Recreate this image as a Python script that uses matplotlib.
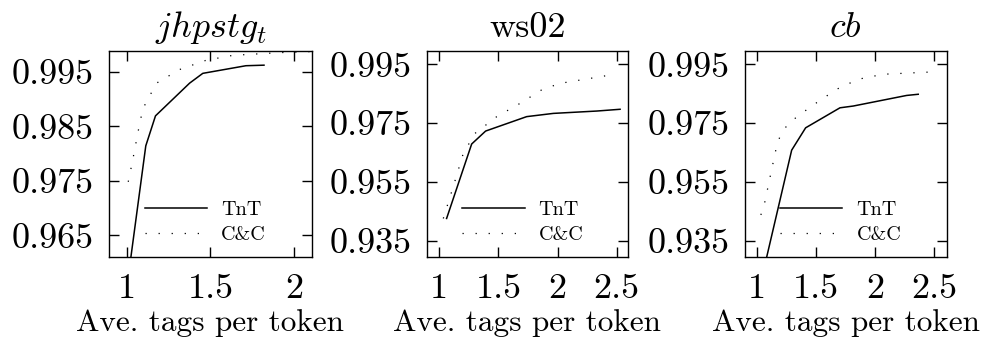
import matplotlib as mpl
mpl.use('agg')
import matplotlib.pyplot as plt

plt.rc('font', family='serif', serif=['cmr10'], size=19)
plt.rc('mathtext', fontset='cm')
plt.rc('axes', linewidth=1.0)
plt.rcParams['axes.formatter.use_mathtext'] = True
plt.rc('lines', scale_dashes=False)

titles = [r'$jhpstg_t$', 'ws02', r'$cb$']

# TnT curves (ave. tags per token, accuracy)
tnt_x = [
    [1.0, 1.113, 1.171, 1.375, 1.454, 1.712, 1.82],
    [1.062, 1.274, 1.392, 1.739, 1.965, 2.332, 2.529],
    [1.03, 1.296, 1.414, 1.704, 1.816, 2.267, 2.365],
]
tnt_y = [
    [0.9555, 0.9814, 0.9869, 0.9929, 0.9947, 0.9961, 0.9962],
    [0.9426, 0.9679, 0.9723, 0.9772, 0.9783, 0.9791, 0.9797],
    [0.9200, 0.9658, 0.9734, 0.9802, 0.9808, 0.9844, 0.9848],
]

# C&C curves
cc_x = [
    [1.008, 1.033, 1.077, 1.097, 1.177, 1.315, 1.474, 1.633, 1.911, 2.11],
    [1.034, 1.118, 1.203, 1.302, 1.486, 1.683, 1.866, 2.021, 2.247, 2.5],
    [1.036, 1.07, 1.118, 1.163, 1.197, 1.267, 1.465, 1.676, 1.858, 2.07, 2.49],
]
cc_y = [
    [0.9748, 0.9785, 0.9856, 0.9883, 0.9929, 0.9954, 0.9971, 0.9980, 0.9985, 0.9987],
    [0.9426, 0.9534, 0.9647, 0.9715, 0.9772, 0.9817, 0.9863, 0.9885, 0.9900, 0.9917],
    [0.9438, 0.9483, 0.9575, 0.9660, 0.9705, 0.9749, 0.9808, 0.9865, 0.9899, 0.9916, 0.9924],
]

xticks = [[1, 1.5, 2], [1, 1.5, 2, 2.5], [1, 1.5, 2, 2.5]]
yticks = [[0.965, 0.975, 0.985, 0.995],
          [0.935, 0.955, 0.975, 0.995],
          [0.935, 0.955, 0.975, 0.995]]
xlims = [(0.893, 2.107), (0.896, 2.596), (0.899, 2.605)]
ylims = [(0.961, 0.9988), (0.9295, 0.9995), (0.9295, 0.9995)]

fig = plt.figure(figsize=(9.82, 3.38), dpi=100)
lefts = [0.111, 0.4348, 0.7583]
widths = [0.2067, 0.2047, 0.2057]

for i in range(3):
    ax = fig.add_axes([lefts[i], 0.2396, widths[i], 0.6095])
    ax.plot(tnt_x[i], tnt_y[i], color='black', lw=1.1, label='TnT')
    ax.plot(cc_x[i], cc_y[i], color='black', lw=0.9,
            linestyle=(0, (0.9, 8.5)), label='C&C')
    ax.set_xlim(xlims[i])
    ax.set_ylim(ylims[i])
    ax.set_xticks(xticks[i])
    ax.set_yticks(yticks[i])
    ax.set_xticklabels([f'{v:g}' for v in xticks[i]])
    ax.set_yticklabels([f'{v:.3f}' for v in yticks[i]])
    ax.tick_params(direction='in', top=True, right=True, length=7,
                   width=1.0, labelsize=26)
    ax.tick_params(axis='y', pad=11)
    ax.tick_params(axis='x', pad=12)
    ax.set_title(titles[i], fontsize=26, pad=10)
    ax.set_xlabel('Ave. tags per token', fontsize=22.5, labelpad=3)
    ax.legend(loc='lower left', bbox_to_anchor=(0.175, 0.065), frameon=False,
              fontsize=14.5, handlelength=3.1, handletextpad=0.7,
              labelspacing=0.3, borderpad=0, borderaxespad=0)

fig.savefig('out.png', dpi=100)
